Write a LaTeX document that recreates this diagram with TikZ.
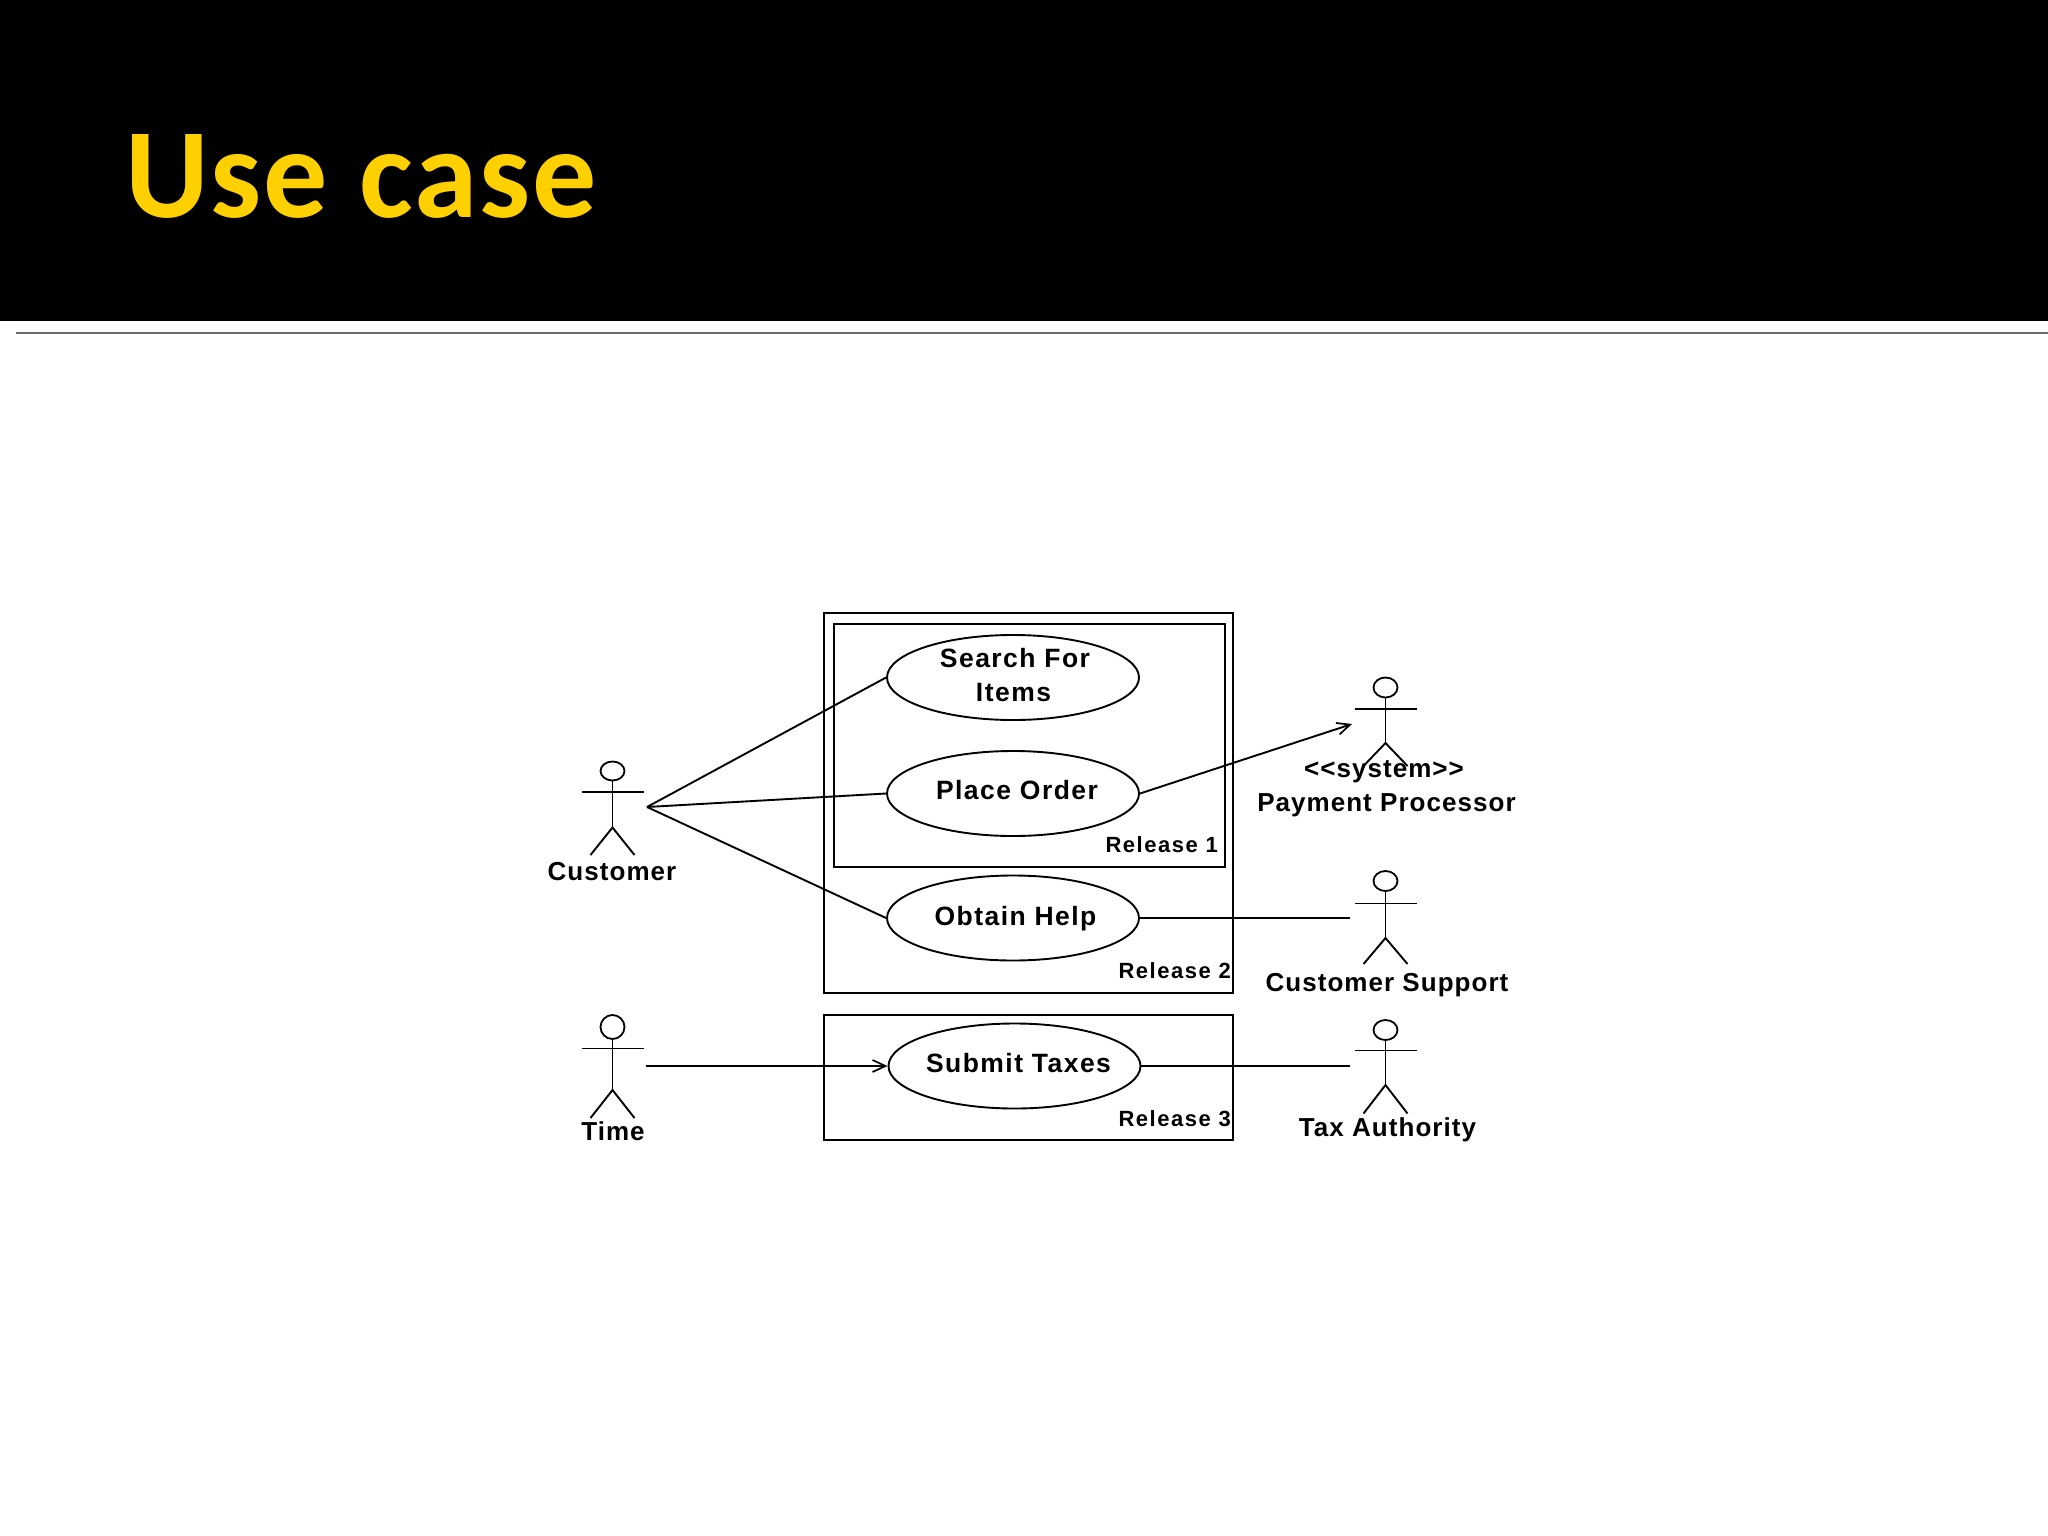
\documentclass[tikz,border=0pt]{standalone}
\usepackage{fontspec}
\setmainfont{Liberation Sans}
\newfontfamily\titlefont[LetterSpace=1.6]{Carlito}
\newfontfamily\lblfont[LetterSpace=4]{Liberation Sans}
\newfontfamily\ucfont[LetterSpace=5.5]{Liberation Sans}
\newfontfamily\relfont[LetterSpace=7]{Liberation Sans}
\usetikzlibrary{shapes.geometric,arrows.meta}
\definecolor{titleyellow}{HTML}{FFD000}
\tikzset{
  line/.style={draw=black,line width=1.9pt},
  framebox/.style={draw=black,line width=2pt,inner sep=0pt},
  usecase/.style={ellipse,draw=black,line width=1.9pt,inner sep=0pt,minimum width=252pt,minimum height=85pt,fill=white},
  lbl/.style={anchor=base,inner sep=0pt,font=\lblfont\bfseries\fontsize{26}{30}\selectfont,text=black},
  ulbl/.style={anchor=base,inner sep=0pt,align=center,font=\ucfont\bfseries\fontsize{26.5}{30}\selectfont,text=black},
  rel/.style={anchor=base east,inner sep=0pt,font=\relfont\bfseries\fontsize{22}{26}\selectfont,text=black},
  actorhead/.style={ellipse,draw=black,line width=1.8pt,inner sep=0pt,minimum width=24pt},
  barb/.style={-{Straight Barb[length=13pt,width=12pt,line width=1.7pt]}}
}
% name, x, head centre y, head height, arm y, hip y, foot y
\newcommand{\actorfig}[7]{%
  \node[actorhead,minimum height=#4pt] (#1head) at (#2,#3) {};
  \coordinate (#1hip) at (#2,#6);
  \coordinate (#1al) at ([xshift=-31pt]#2,#5);
  \coordinate (#1ar) at ([xshift=31pt]#2,#5);
  \coordinate (#1fl) at ([xshift=-22pt]#2,#7);
  \coordinate (#1fr) at ([xshift=22pt]#2,#7);
  \draw[line] (#1head.south) -- (#1hip);
  \draw[line] (#1al) -- (#1ar);
  \draw[line] (#1fl) -- (#1hip) -- (#1fr);
}
\begin{document}
\begin{tikzpicture}[x=1pt,y=-1pt]
\useasboundingbox (0,0) rectangle (2048,1536);
\fill[white] (0,0) rectangle (2048,1536);
\fill[black] (0,0) rectangle (2048,321);
\draw[draw=black!58,line width=2pt] (16,332.5) -- (2048,332.5);
\node[anchor=base west,inner sep=0pt,text=titleyellow,font=\titlefont\bfseries\fontsize{128}{140}\selectfont] (title) at (125,217.5) {Use case};

% release boxes
\node[framebox,minimum width=409pt,minimum height=380pt] (r2) at (1028,803) {};
\node[framebox,minimum width=391pt,minimum height=243.5pt] (r1) at (1029.5,745.3) {};
\node[framebox,minimum width=409pt,minimum height=125.5pt] (r3) at (1028,1077.5) {};

% use cases
\node[usecase] (search) at (1013,677.5) {};
\node[usecase] (place) at (1013,793.5) {};
\node[usecase] (help) at (1013,918) {};
\node[usecase] (taxes) at (1014.5,1066) {};

\node[ulbl] (searcht) at (1015,667.5) {Search For};
\node[ulbl] (itemst) at (1013.5,701) {Items};
\node[ulbl] (placet) at (1017,799) {Place Order};
\node[ulbl] (helpt) at (1015.5,925) {Obtain Help};
\node[ulbl] (taxest) at (1018.5,1072.5) {Submit Taxes};

\node[rel] (rel1) at (1218,852.5) {Release 1};
\node[rel] (rel2) at (1231,978.5) {Release 2};
\node[rel] (rel3) at (1231,1126.5) {Release 3};

% actors
\actorfig{cust}{612.5}{771}{19}{792}{827.5}{855}
\actorfig{time}{612.5}{1027}{24}{1048.5}{1090}{1118}
\actorfig{pay}{1385.5}{687.5}{20}{709}{743}{766}
\actorfig{supp}{1385.5}{881}{20}{903.5}{938}{964}
\actorfig{auth}{1385.5}{1030}{20}{1050.5}{1085}{1113.5}

\node[lbl] (custt) at (612,880) {Customer};
\node[lbl] (timet) at (613,1140) {Time};
\node[lbl] (syst) at (1384,777.5) {<{}<system>{}>};
\node[lbl] (payt) at (1386.5,811.5) {Payment Processor};
\node[lbl] (suppt) at (1387,991) {Customer Support};
\node[lbl] (autht) at (1387.5,1136.5) {Tax Authority};

% connector ends
\coordinate (custport) at (647,807);
\coordinate (timeport) at (646,1066);
\coordinate (payport) at (1352,724);
\coordinate (suppport) at (1350,918);
\coordinate (authport) at (1350,1066);

\draw[line] (custport) -- (search.west);
\draw[line] (custport) -- (place.west);
\draw[line] (custport) -- (help.west);
\draw[line,barb] (timeport) -- (taxes.west);
\draw[line,barb] (place.east) -- (payport);
\draw[line] (help.east) -- (suppport);
\draw[line] (taxes.east) -- (authport);
\end{tikzpicture}
\end{document}
